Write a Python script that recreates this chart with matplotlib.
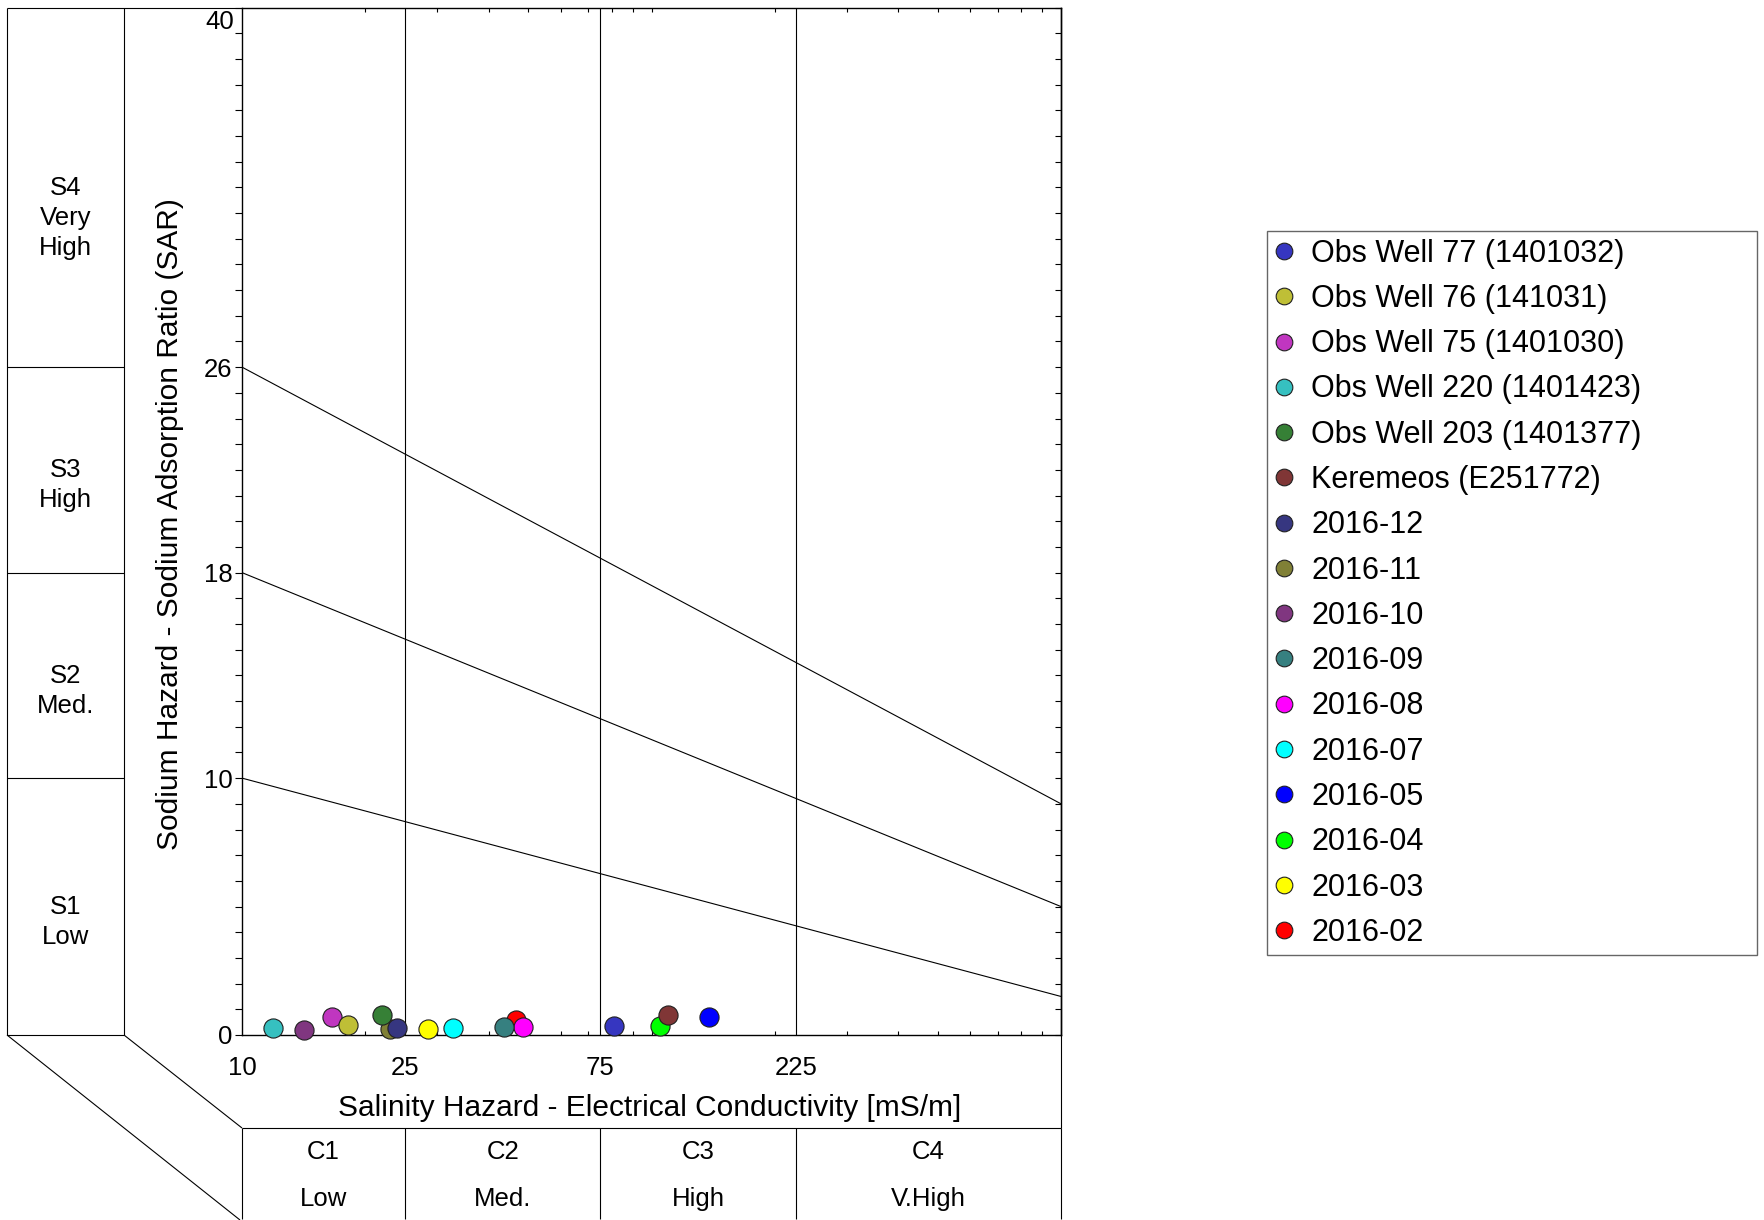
import matplotlib
matplotlib.use('Agg')
import matplotlib.pyplot as plt
import matplotlib.transforms as mtransforms
from matplotlib.lines import Line2D
from matplotlib.ticker import FixedLocator, NullFormatter
import numpy as np

plt.rcParams['font.family'] = ['Liberation Sans', 'DejaVu Sans']

# samples, in legend order
names = ['Obs Well 77 (1401032)', 'Obs Well 76 (141031)', 'Obs Well 75 (1401030)',
         'Obs Well 220 (1401423)', 'Obs Well 203 (1401377)', 'Keremeos (E251772)',
         '2016-12', '2016-11', '2016-10', '2016-09', '2016-08', '2016-07',
         '2016-05', '2016-04', '2016-03', '2016-02']
colors = ['#3636C0', '#BFBF36', '#C036C0', '#36C0C0', '#368036', '#803636',
          '#363680', '#808036', '#803680', '#368080', '#FF00FF', '#00FFFF',
          '#0000FF', '#00FF00', '#FFFF00', '#FF0000']
ec = [80.9, 18.2, 16.6, 11.9, 22.0, 110.0, 23.9, 23.0, 14.2, 43.6, 48.6, 32.7,
      138.0, 105.0, 28.4, 46.7]          # mS/m
sar = [0.35, 0.39, 0.69, 0.27, 0.77, 0.79, 0.28, 0.22, 0.19, 0.30, 0.30, 0.26,
       0.71, 0.35, 0.23, 0.58]

# hazard classes
ec_bounds = [10, 25, 75, 225, 1000]
c_classes = ['C1', 'C2', 'C3', 'C4']
c_names = ['Low', 'Med.', 'High', 'V.High']
sar_left = [10, 18, 26]     # boundary SAR at EC = 10
sar_right = [1.5, 5, 9]     # boundary SAR at EC = 1000
s_bounds = [0, 10, 18, 26, 40]
s_classes = ['S1\nLow', 'S2\nMed.', 'S3\nHigh', 'S4\nVery\nHigh']
sar_ticks = [0, 10, 18, 26, 40]
ec_ticks = [10, 25, 75, 225]

# layout in pixels
W, H = 1764, 1220
AX_L, AX_R, AX_T, AX_B = 242, 1061, 7.5, 1035
S_L, S_R = 7, 124
C_T, BOT = 1128, 1219

fig = plt.figure(figsize=(W / 100, H / 100), dpi=100)
fig.patch.set_facecolor('white')

ov = fig.add_axes([0, 0, 1, 1])
ov.set_xlim(0, W)
ov.set_ylim(H, 0)
ov.axis('off')

ax = fig.add_axes([AX_L / W, 1 - AX_B / H, (AX_R - AX_L) / W, (AX_B - AX_T) / H])
ax.set_facecolor('none')
ax.set_xscale('log')
ax.set_xlim(ec_bounds[0], ec_bounds[-1])
ax.set_ylim(s_bounds[0], s_bounds[-1])

bx = mtransforms.blended_transform_factory(ax.transData, ov.transData)
by = mtransforms.blended_transform_factory(ov.transData, ax.transData)

lk = dict(color='black', lw=0.8, solid_capstyle='butt')

# class lines inside the plot
for b in ec_bounds[1:-1]:
    ax.axvline(b, **lk)
for l, r in zip(sar_left, sar_right):
    ax.plot([ec_bounds[0], ec_bounds[-1]], [l, r], **lk)

# samples, drawn last-legend-entry first
for i in reversed(range(len(names))):
    ax.scatter(ec[i], sar[i], s=190, color=colors[i], edgecolor='#202020',
               linewidth=0.8, zorder=3, clip_on=False)

# ticks
ax.xaxis.set_major_locator(FixedLocator(ec_ticks))
ax.set_xticklabels([str(t) for t in ec_ticks])
minor_x = [v * d for d in (10, 100) for v in range(2, 10)] + [100]
ax.xaxis.set_minor_locator(FixedLocator(minor_x))
ax.xaxis.set_minor_formatter(NullFormatter())
ax.tick_params(axis='x', which='major', length=0, labelsize=18.5, pad=15)
ax.tick_params(axis='x', which='minor', direction='in', length=3, width=0.8,
               top=True, bottom=True)

ax.yaxis.set_major_locator(FixedLocator(sar_ticks))
ax.set_yticklabels([str(t) for t in sar_ticks[:-1]] + [''])
ax.yaxis.set_minor_locator(FixedLocator(np.arange(0, 41, 1)))
ax.tick_params(axis='y', which='both', direction='out', length=5, width=0.8,
               left=True, right=False, labelsize=18.5, pad=2)
# top label sits below its tick, inside the frame
ov.text(234, 10, str(sar_ticks[-1]), ha='right', va='top', fontsize=18.5)

ax2 = ax.secondary_yaxis('right')
ax2.yaxis.set_major_locator(FixedLocator(np.arange(0, 41, 1)))
ax2.tick_params(axis='y', which='both', direction='in', length=4.5, width=0.8,
                labelright=False)

for sp in ax.spines.values():
    sp.set_linewidth(1.0)
ax2.spines['right'].set_linewidth(1.0)

ax.set_xlabel('Salinity Hazard - Electrical Conductivity [mS/m]', fontsize=21.5)
ax.xaxis.set_label_coords(0.498, (AX_B - 1108) / (AX_B - AX_T))
ax.xaxis.label.set_va('center')
ax.set_ylabel('Sodium Hazard - Sodium Adsorption Ratio (SAR)', fontsize=21.5)
ax.yaxis.set_label_coords((170 - AX_L) / (AX_R - AX_L), 0.497)
ax.yaxis.label.set_va('center')

# sodium hazard column on the left
ov.plot([S_L, S_L], [s_bounds[0], s_bounds[-1]], transform=by, **lk)
ov.plot([S_R, S_R], [s_bounds[0], s_bounds[-1]], transform=by, **lk)
for b in s_bounds[:-1]:
    ov.plot([S_L, S_R], [b, b], transform=by, **lk)
ov.plot([S_L, AX_L], [s_bounds[-1], s_bounds[-1]], transform=by, **lk)
s_off = [0.6, 0.6, 0.6, 1.2]
for i, lab in enumerate(s_classes):
    mid = (s_bounds[i] + s_bounds[i + 1]) / 2 - s_off[i]
    ov.text((S_L + S_R) / 2, mid, lab, transform=by, ha='center', va='center',
            fontsize=18.5, linespacing=1.3)

# perspective lines
ov.plot([S_L, 240], [AX_B, BOT + 1], **lk)
ov.plot([S_R, AX_L], [AX_B, C_T], **lk)

# salinity hazard row at the bottom
ov.plot([ec_bounds[0], ec_bounds[-1]], [C_T, C_T], transform=bx, **lk)
for b in ec_bounds:
    ov.plot([b, b], [C_T, BOT], transform=bx, **lk)
ov.plot([ec_bounds[-1]] * 2, [AX_B, C_T], transform=bx, **lk)
for i in range(len(c_classes)):
    mid = np.sqrt(ec_bounds[i] * ec_bounds[i + 1])
    ov.text(mid, 1152, c_classes[i], transform=bx, ha='center', va='center', fontsize=18.5)
    ov.text(mid, 1199, c_names[i], transform=bx, ha='center', va='center', fontsize=18.5)

# legend
handles = [Line2D([], [], ls='none', marker='o', markersize=12, markerfacecolor=c,
                  markeredgecolor='#202020', markeredgewidth=0.8) for c in colors]
lx0, lx1, ly0, ly1 = 1267, 1757, 231, 953
leg = fig.legend(handles, names, loc='upper left', mode='expand',
                 bbox_to_anchor=(lx0 / W, 1 - ly1 / H, (lx1 - lx0) / W, (ly1 - ly0) / H),
                 borderaxespad=0, fontsize=22, frameon=True, fancybox=False,
                 edgecolor='#404040', handlelength=0.6, handletextpad=0.6,
                 borderpad=0.25, labelspacing=0.5)
leg.get_frame().set_linewidth(1.0)

fig.savefig('out.png', dpi=100, facecolor='white')
